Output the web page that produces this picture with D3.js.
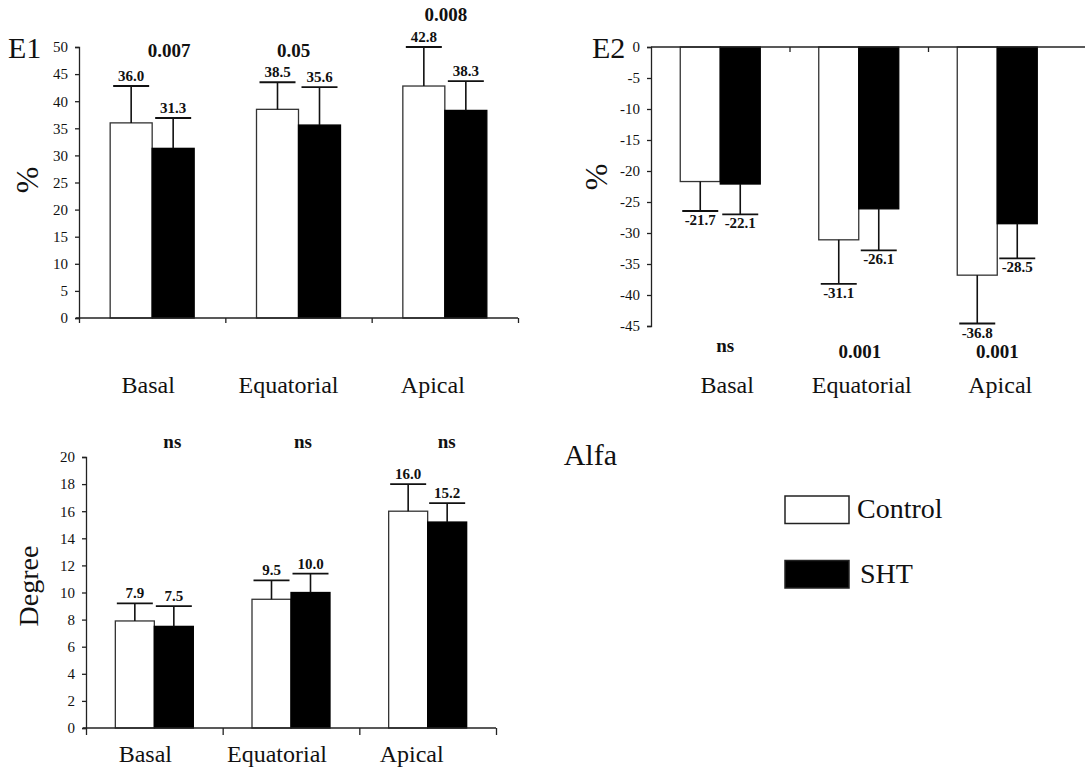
<!DOCTYPE html>
<html>
<head>
<meta charset="utf-8">
<script src="https://cdn.jsdelivr.net/npm/d3@7"></script>
<style>
  body { margin: 0; background: #fff; }
  svg { display: block; }
</style>
</head>
<body>
<div id="chart"></div>
<script>
// --- data ---
const categories = ["Basal", "Equatorial", "Apical"];
const groups = ["Control", "SHT"];

const e1Control = [36.0, 38.5, 42.8];
const e1ControlSD = [6.8, 5.0, 7.2];
const e1SHT = [31.3, 35.6, 38.3];
const e1SHTSD = [5.6, 7.0, 5.4];
const e1P = ["0.007", "0.05", "0.008"];
const e1Ticks = [0, 5, 10, 15, 20, 25, 30, 35, 40, 45, 50];

const e2Control = [-21.7, -31.1, -36.8];
const e2ControlSD = [4.75, 7.1, 7.8];
const e2SHT = [-22.1, -26.1, -28.5];
const e2SHTSD = [4.9, 6.7, 5.6];
const e2P = ["ns", "0.001", "0.001"];
const e2Ticks = [0, -5, -10, -15, -20, -25, -30, -35, -40, -45];

const alfaControl = [7.9, 9.5, 16.0];
const alfaControlSD = [1.3, 1.4, 2.0];
const alfaSHT = [7.5, 10.0, 15.2];
const alfaSHTSD = [1.5, 1.4, 1.4];
const alfaP = ["ns", "ns", "ns"];
const alfaTicks = [0, 2, 4, 6, 8, 10, 12, 14, 16, 18, 20];

const colors = { Control: "#fff", SHT: "#000" };
const serif = "'Liberation Serif', 'DejaVu Serif', serif";

const svg = d3.select("#chart")
  .append("svg")
  .attr("width", 1085)
  .attr("height", 769)
  .style("font-family", serif);

// builds one bar panel
function drawPanel(opt) {
  const g = svg.append("g");
  const x = d3.scaleBand().domain(categories).range(opt.xRange).padding(0);
  const y = d3.scaleLinear().domain(opt.yDomain).range(opt.yRange);
  const sub = d3.scaleBand().domain(groups).range([0, 2 * opt.barW]);

  const rows = [];
  categories.forEach((c, i) => {
    rows.push({ cat: c, i, grp: "Control", v: opt.control[i], sd: opt.controlSD[i] });
    rows.push({ cat: c, i, grp: "SHT", v: opt.sht[i], sd: opt.shtSD[i] });
  });
  const bx = d => x(d.cat) + x.bandwidth() / 2 - opt.barW + sub(d.grp);
  const cx = d => bx(d) + opt.barW / 2;

  // bars
  g.selectAll("rect.bar")
    .data(rows)
    .enter()
    .append("rect")
    .attr("class", "bar")
    .attr("x", bx)
    .attr("width", opt.barW)
    .attr("y", d => Math.min(y(d.v), y(0)))
    .attr("height", d => Math.abs(y(d.v) - y(0)))
    .attr("fill", d => colors[d.grp])
    .attr("stroke", d => d.grp === "Control" ? "#333" : "#000")
    .attr("stroke-width", 1.3);

  // error bars
  const end = d => d.v + Math.sign(d.v) * d.sd;
  g.selectAll("line.err")
    .data(rows)
    .enter()
    .append("line")
    .attr("x1", cx).attr("x2", cx)
    .attr("y1", d => y(d.v)).attr("y2", d => y(end(d)))
    .attr("stroke", "#111").attr("stroke-width", 1.6);
  g.selectAll("line.cap")
    .data(rows)
    .enter()
    .append("line")
    .attr("x1", d => cx(d) - 18).attr("x2", d => cx(d) + 18)
    .attr("y1", d => y(end(d))).attr("y2", d => y(end(d)))
    .attr("stroke", "#111").attr("stroke-width", 1.8);

  // value labels
  g.selectAll("text.val")
    .data(rows)
    .enter()
    .append("text")
    .attr("x", cx)
    .attr("y", d => d.v > 0 ? y(end(d)) - 5 : y(end(d)) + 14)
    .attr("text-anchor", "middle")
    .style("font-family", serif)
    .style("font-weight", "bold")
    .style("font-size", "15px")
    .attr("fill", "#111")
    .text(d => d.v.toFixed(1));

  // y axis
  const ya = g.append("g")
    .attr("transform", `translate(${opt.xRange[0]},0)`)
    .call(d3.axisLeft(y).tickValues(opt.ticks).tickSize(4).tickPadding(7).tickFormat(d => String(d)));
  ya.selectAll("text")
    .style("font-family", serif)
    .style("font-size", "15px")
    .attr("fill", "#111");
  ya.selectAll("line, path").attr("stroke", "#222").attr("stroke-width", 1.3);

  // x axis with category boundary ticks
  const xb = d3.scaleLinear().domain([0, 3]).range(opt.xRange);
  const xa = g.append("g")
    .attr("transform", `translate(0,${y(0)})`)
    .call(d3.axisBottom(xb).tickValues(opt.xTickVals).tickSize(opt.xTickLen).tickSizeOuter(0).tickFormat(""));
  xa.select("path.domain").remove();
  xa.selectAll("line").attr("stroke", "#222").attr("stroke-width", 1.3);
  xa.append("line")
    .attr("x1", opt.xLine[0]).attr("x2", opt.xLine[1])
    .attr("stroke", "#222").attr("stroke-width", 1.5);

  // category labels
  g.selectAll("text.cat")
    .data(categories)
    .enter()
    .append("text")
    .attr("x", (d, i) => x(d) + x.bandwidth() / 2 + opt.catDx[i])
    .attr("y", opt.catY)
    .attr("text-anchor", "middle")
    .style("font-family", serif)
    .style("font-size", "24px")
    .attr("fill", "#111")
    .text(d => d);

  // p-values
  g.selectAll("text.p")
    .data(opt.p)
    .enter()
    .append("text")
    .attr("x", (d, i) => x(categories[i]) + x.bandwidth() / 2 + opt.pDx[i])
    .attr("y", (d, i) => opt.pY[i])
    .attr("text-anchor", "middle")
    .style("font-family", serif)
    .style("font-weight", "bold")
    .style("font-size", "19px")
    .attr("fill", "#111")
    .text(d => d);

  // y title
  g.append("text")
    .attr("transform", `translate(${opt.yTitlePos[0]},${opt.yTitlePos[1]}) rotate(-90)`)
    .attr("text-anchor", "middle")
    .style("font-family", serif)
    .style("font-size", opt.yTitleSize + "px")
    .attr("fill", "#111")
    .text(opt.yTitle);

  // panel title
  g.append("text")
    .attr("x", opt.titlePos[0])
    .attr("y", opt.titlePos[1])
    .attr("text-anchor", opt.titleAnchor || "start")
    .style("font-family", serif)
    .style("font-size", "30px")
    .attr("fill", "#111")
    .text(opt.title);
}

drawPanel({
  control: e1Control, controlSD: e1ControlSD, sht: e1SHT, shtSD: e1SHTSD, p: e1P, ticks: e1Ticks,
  xRange: [79, 518], yDomain: [0, 50], yRange: [318, 47], barW: 42,
  xTickVals: [0, 1, 2, 3], xTickLen: 5, xLine: [76, 518],
  catDx: [-4, -10, -12], catY: 393,
  pDx: [17, -5, 1], pY: [57, 57, 21],
  yTitle: "%", yTitlePos: [38, 180], yTitleSize: 32,
  title: "E1", titlePos: [8, 58]
});

drawPanel({
  control: e2Control, controlSD: e2ControlSD, sht: e2SHT, shtSD: e2SHTSD, p: e2P, ticks: e2Ticks,
  xRange: [651, 1066.5], yDomain: [-45, 0], yRange: [326, 47], barW: 40,
  xTickVals: [1, 2], xTickLen: 5, xLine: [651, 1085],
  catDx: [7, 3, 3], catY: 393,
  pDx: [5, 1, 0], pY: [352, 358, 358],
  yTitle: "%", yTitlePos: [607, 177], yTitleSize: 32,
  title: "E2", titlePos: [592, 58]
});

drawPanel({
  control: alfaControl, controlSD: alfaControlSD, sht: alfaSHT, shtSD: alfaSHTSD, p: alfaP, ticks: alfaTicks,
  xRange: [86, 496], yDomain: [0, 20], yRange: [728, 457], barW: 39,
  xTickVals: [0, 1, 2, 3], xTickLen: 7, xLine: [83, 496],
  catDx: [-9, -14, -16], catY: 762,
  pDx: [18, 12, 19], pY: [448, 448, 448],
  yTitle: "Degree", yTitlePos: [38, 586], yTitleSize: 28,
  title: "Alfa", titlePos: [617, 465], titleAnchor: "end"
});

// legend
const legend = svg.append("g").attr("transform", "translate(785,496)");
legend.selectAll("rect")
  .data(groups)
  .enter()
  .append("rect")
  .attr("x", 0)
  .attr("y", (d, i) => i * 64.5)
  .attr("width", 64)
  .attr("height", 27.5)
  .attr("fill", d => colors[d])
  .attr("stroke", "#222")
  .attr("stroke-width", 1.5);
legend.selectAll("text")
  .data(groups)
  .enter()
  .append("text")
  .attr("x", (d, i) => i === 0 ? 72 : 75)
  .attr("y", (d, i) => 22 + i * 65)
  .style("font-family", serif)
  .style("font-size", "28px")
  .attr("fill", "#111")
  .text(d => d);
</script>
</body>
</html>
